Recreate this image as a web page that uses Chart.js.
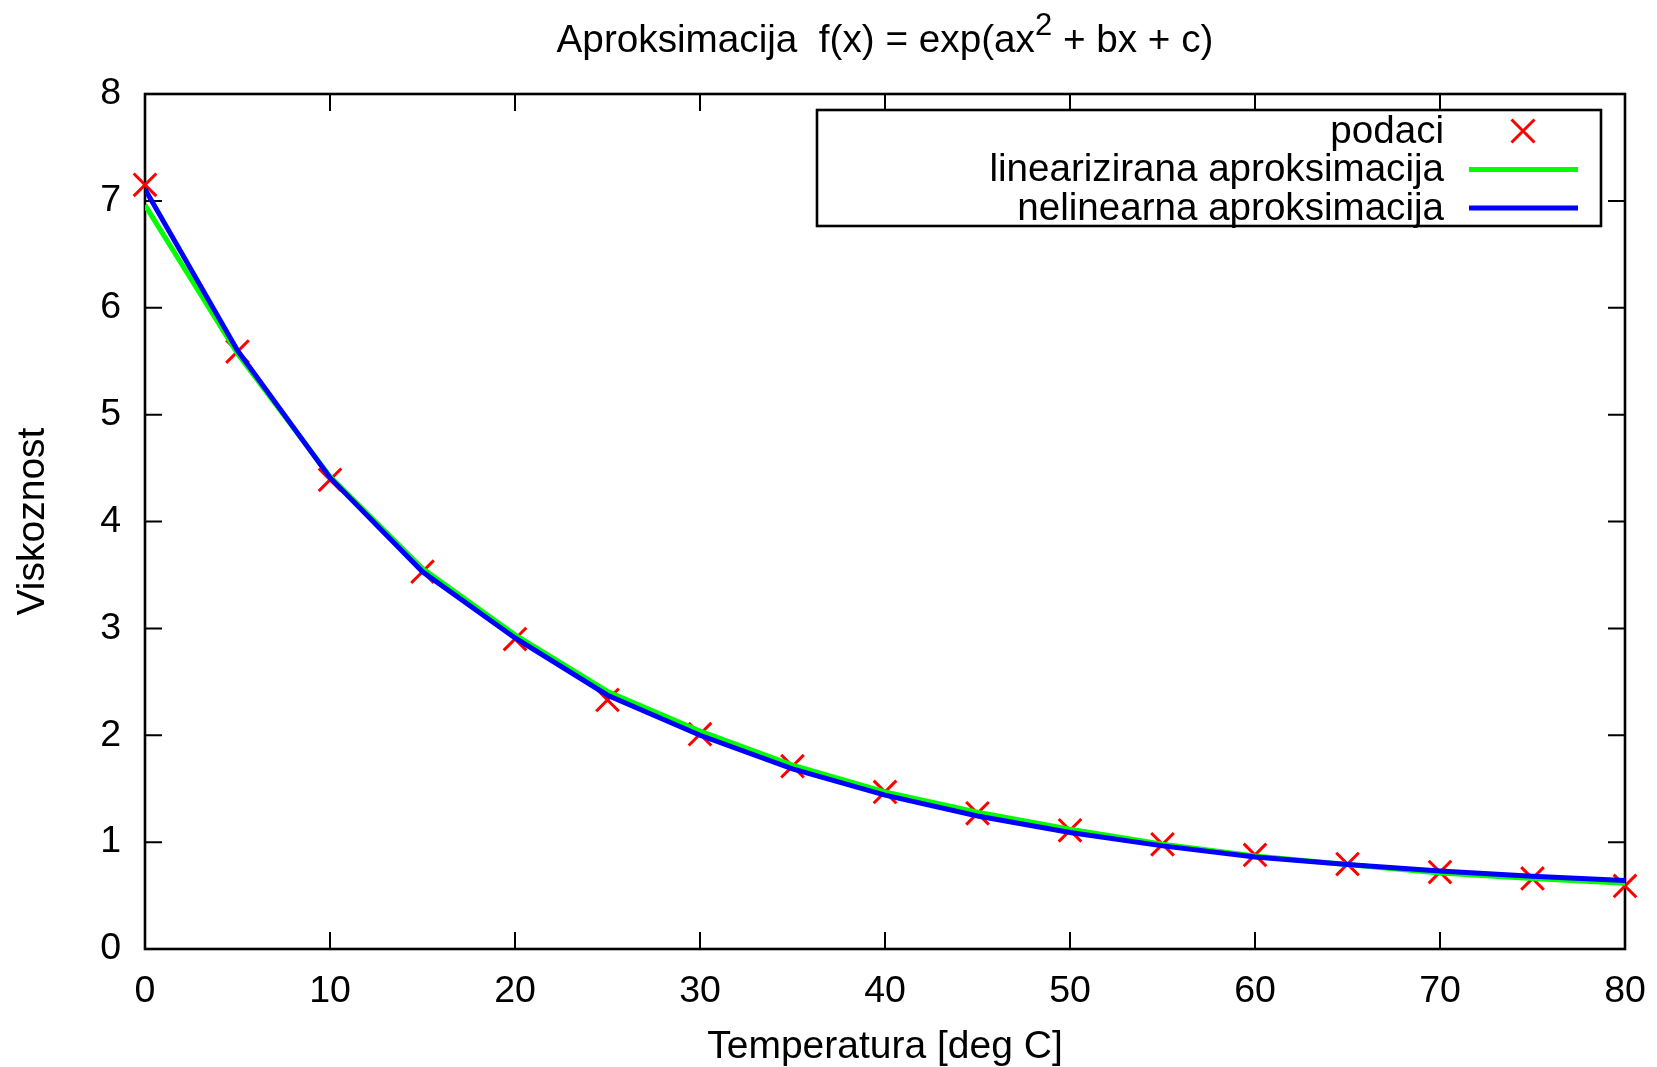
<!DOCTYPE html>
<html>
<head>
<meta charset="utf-8">
<script src="https://cdn.jsdelivr.net/npm/chart.js@4.4.1/dist/chart.umd.min.js"></script>
<style>
  html, body { margin: 0; padding: 0; background: #fff; }
  canvas { display: block; }
</style>
</head>
<body>
<canvas id="viskoznostChart" width="1657" height="1067"></canvas>
<script>
// podaci ocitani sa slike
var temperatura = [0, 5, 10, 15, 20, 25, 30, 35, 40, 45, 50, 55, 60, 65, 70, 75, 80];
var podaci = [7.15, 5.59, 4.39, 3.53, 2.90, 2.33, 2.01, 1.71, 1.47, 1.27, 1.11, 0.98, 0.88, 0.795, 0.72, 0.66, 0.59];
var linearizirana = [6.96, 5.57, 4.42, 3.56, 2.94, 2.41, 2.04, 1.72, 1.47, 1.28, 1.12, 0.98, 0.87, 0.79, 0.71, 0.66, 0.615];
var nelinearna = [7.11, 5.60, 4.41, 3.53, 2.91, 2.375, 2.00, 1.685, 1.44, 1.245, 1.09, 0.965, 0.86, 0.79, 0.73, 0.68, 0.64];
var xTicks = [0, 10, 20, 30, 40, 50, 60, 70, 80];
var yTicks = [0, 1, 2, 3, 4, 5, 6, 7, 8];

var FONT = '"Liberation Sans", Arial, Helvetica, sans-serif';

function points(vals) {
    return temperatura.map(function (t, i) { return { x: t, y: vals[i] }; });
}

// okvir i unutarnje crtice na sve cetiri strane
var frame = {
    id: 'frame',
    beforeDatasetsDraw: function (chart) {
        var ctx = chart.ctx, a = chart.chartArea;
        var sx = chart.scales.x, sy = chart.scales.y;
        var tl = 17;
        ctx.save();
        ctx.strokeStyle = '#000';
        ctx.lineWidth = 2;
        ctx.beginPath();
        xTicks.forEach(function (v) {
            var px = sx.getPixelForValue(v);
            ctx.moveTo(px, a.bottom); ctx.lineTo(px, a.bottom - tl);
            ctx.moveTo(px, a.top); ctx.lineTo(px, a.top + tl);
        });
        yTicks.forEach(function (v) {
            var py = sy.getPixelForValue(v);
            ctx.moveTo(a.left, py); ctx.lineTo(a.left + tl, py);
            ctx.moveTo(a.right, py); ctx.lineTo(a.right - tl, py);
        });
        ctx.stroke();
        ctx.lineWidth = 2.6;
        ctx.strokeRect(a.left, a.top, a.right - a.left, a.bottom - a.top);
        ctx.restore();
    }
};

// naslov s eksponentom
var naslov = {
    id: 'naslov',
    afterDraw: function (chart) {
        var ctx = chart.ctx, a = chart.chartArea;
        var p1 = 'Aproksimacija  f(x) = exp(ax', sup = '2', p2 = ' + bx + c)';
        ctx.save();
        ctx.fillStyle = '#000';
        ctx.textBaseline = 'alphabetic';
        ctx.textAlign = 'left';
        ctx.font = '38.7px ' + FONT;
        var w1 = ctx.measureText(p1).width, w3 = ctx.measureText(p2).width;
        ctx.font = '31px ' + FONT;
        var w2 = ctx.measureText(sup).width;
        var x = (a.left + a.right) / 2 - (w1 + w2 + w3) / 2;
        var base = 52;
        ctx.font = '38.7px ' + FONT;
        ctx.fillText(p1, x, base);
        ctx.font = '31px ' + FONT;
        ctx.fillText(sup, x + w1, base - 17);
        ctx.font = '38.7px ' + FONT;
        ctx.fillText(p2, x + w1 + w2, base);
        ctx.restore();
    }
};

// legenda u gornjem desnom kutu
var legenda = {
    id: 'legenda',
    afterDatasetsDraw: function (chart) {
        var ctx = chart.ctx, a = chart.chartArea;
        var right = a.right - 24, top = a.top + 16;
        var left = right - 784, bottom = top + 116;
        ctx.save();
        ctx.fillStyle = '#fff';
        ctx.fillRect(left, top, right - left, bottom - top);
        ctx.strokeStyle = '#000';
        ctx.lineWidth = 2.6;
        ctx.strokeRect(left, top, right - left, bottom - top);
        ctx.font = '38.6px ' + FONT;
        ctx.textAlign = 'right';
        ctx.textBaseline = 'middle';
        chart.data.datasets.forEach(function (ds, i) {
            var y = top + 21 + i * 38.5;
            ctx.fillStyle = '#000';
            ctx.fillText(ds.label, right - 157, y + 1);
            ctx.strokeStyle = ds.borderColor;
            ctx.beginPath();
            if (ds.showLine === false) {
                var cx = right - 78, h = 11.5;
                ctx.lineWidth = 3;
                ctx.moveTo(cx - h, y - h); ctx.lineTo(cx + h, y + h);
                ctx.moveTo(cx - h, y + h); ctx.lineTo(cx + h, y - h);
            } else {
                ctx.lineWidth = 5;
                ctx.moveTo(right - 132, y); ctx.lineTo(right - 23, y);
            }
            ctx.stroke();
        });
        ctx.restore();
    }
};

new Chart(document.getElementById('viskoznostChart'), {
    type: 'scatter',
    data: {
        datasets: [{
            label: 'podaci',
            data: points(podaci),
            showLine: false,
            pointStyle: 'crossRot',
            pointRadius: 16,
            pointBorderWidth: 3,
            borderColor: '#ff0000',
            backgroundColor: '#ff0000',
            clip: false,
            order: 3
        }, {
            label: 'linearizirana aproksimacija',
            data: points(linearizirana),
            showLine: true,
            pointRadius: 0,
            borderWidth: 5,
            borderColor: '#00ff00',
            backgroundColor: '#00ff00',
            tension: 0,
            order: 2
        }, {
            label: 'nelinearna aproksimacija',
            data: points(nelinearna),
            showLine: true,
            pointRadius: 0,
            borderWidth: 5,
            borderColor: '#0000ff',
            backgroundColor: '#0000ff',
            tension: 0,
            order: 1
        }]
    },
    options: {
        responsive: false,
        devicePixelRatio: 1,
        animation: false,
        layout: { padding: { left: 0, right: 32, top: 94, bottom: 0 } },
        plugins: {
            legend: { display: false },
            title: { display: false },
            tooltip: { enabled: false }
        },
        scales: {
            x: {
                type: 'linear',
                min: 0,
                max: 80,
                afterBuildTicks: function (s) { s.ticks = xTicks.map(function (v) { return { value: v }; }); },
                afterFit: function (s) { s.height = 118; s.paddingLeft = 0; s.paddingRight = 0; },
                grid: { display: false, drawTicks: false },
                border: { display: false },
                ticks: { padding: 20, color: '#000', font: { family: FONT, size: 37.5 } },
                title: {
                    display: true,
                    text: 'Temperatura [deg C]',
                    color: '#000',
                    font: { family: FONT, size: 39, lineHeight: 1 },
                    padding: { top: 0, bottom: 0 }
                }
            },
            y: {
                type: 'linear',
                min: 0,
                max: 8,
                afterBuildTicks: function (s) { s.ticks = yTicks.map(function (v) { return { value: v }; }); },
                afterFit: function (s) { s.width = 145; s.paddingTop = 0; s.paddingBottom = 0; },
                grid: { display: false, drawTicks: false },
                border: { display: false },
                ticks: { padding: 24, color: '#000', font: { family: FONT, size: 37.5 } },
                title: {
                    display: true,
                    text: 'Viskoznost',
                    color: '#000',
                    font: { family: FONT, size: 39 },
                    padding: { top: 10, bottom: 0 }
                }
            }
        }
    },
    plugins: [frame, naslov, legenda]
});
</script>
</body>
</html>
